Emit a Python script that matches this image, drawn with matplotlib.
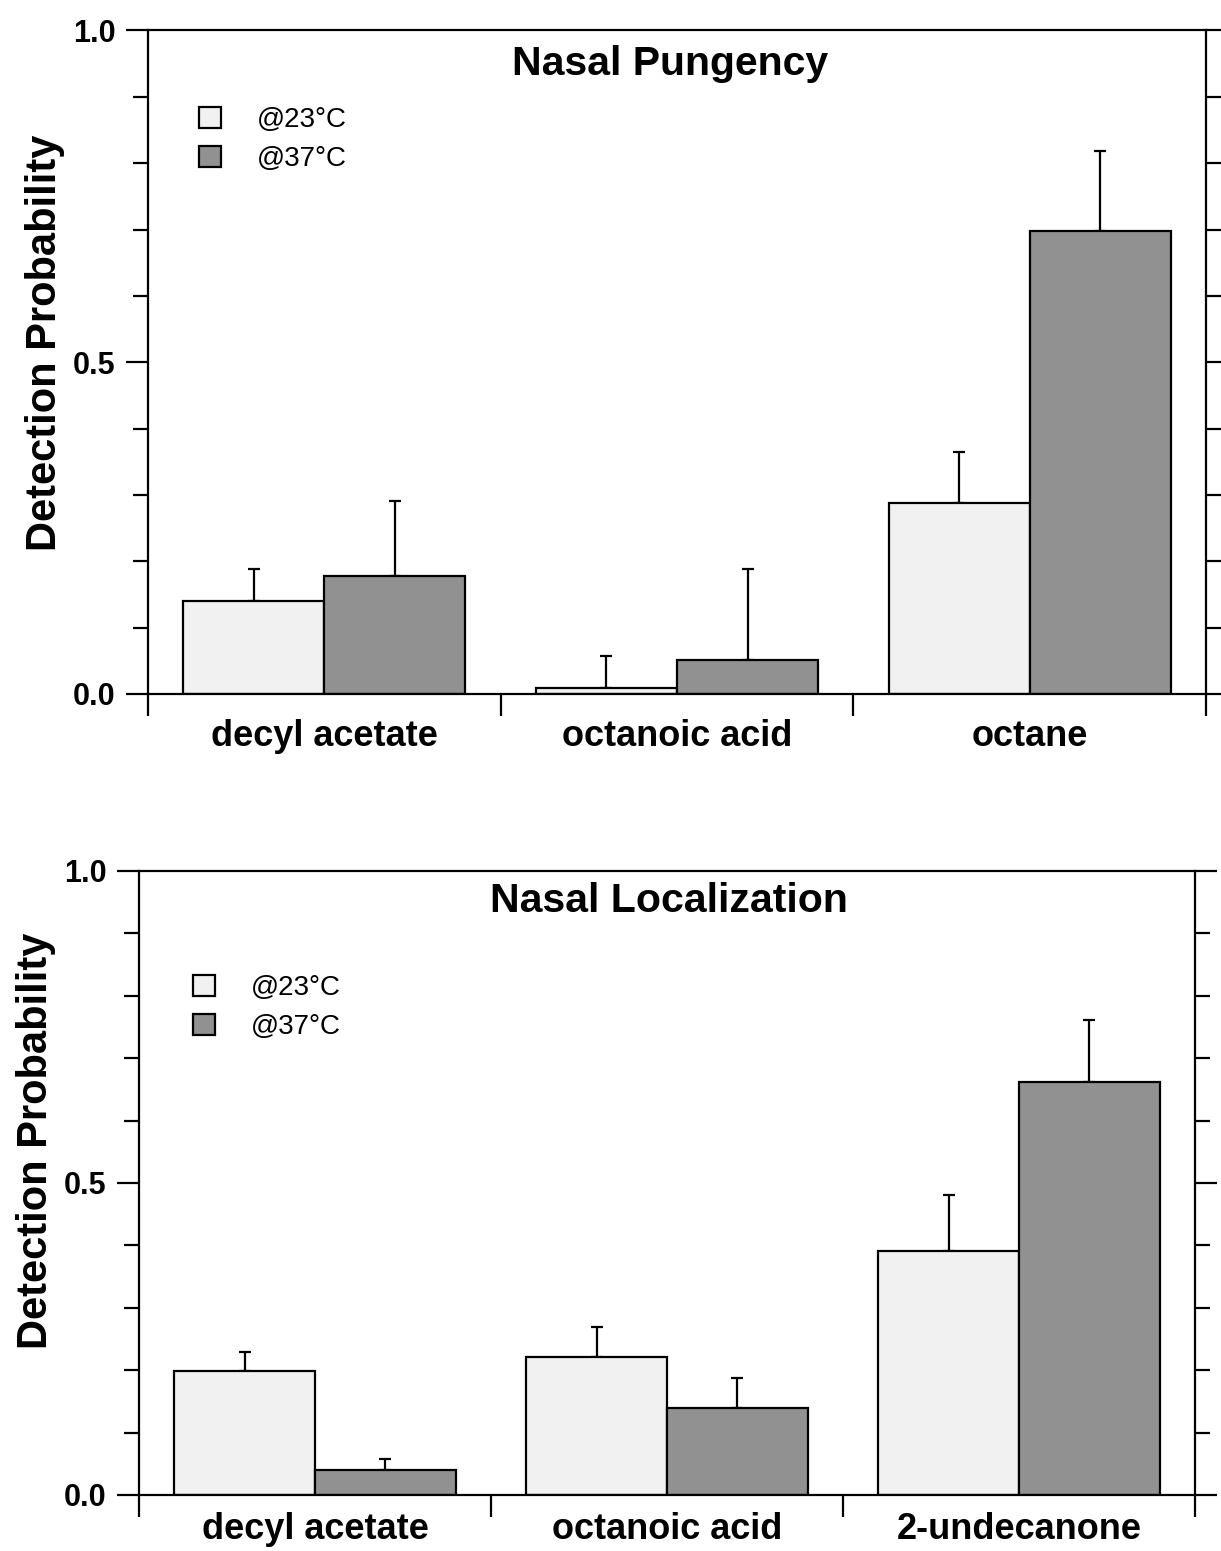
import matplotlib
matplotlib.use("Agg")
import matplotlib.pyplot as plt
from matplotlib.ticker import FixedLocator
import numpy as np

plt.rcParams['font.family'] = ['Liberation Sans', 'DejaVu Sans']

# ---- data ----
top_categories = ["decyl acetate", "octanoic acid", "octane"]
top_23 = [0.140, 0.009, 0.288]
top_23_err = [0.048, 0.048, 0.077]
top_37 = [0.178, 0.051, 0.698]
top_37_err = [0.113, 0.137, 0.120]

bot_categories = ["decyl acetate", "octanoic acid", "2-undecanone"]
bot_23 = [0.199, 0.221, 0.391]
bot_23_err = [0.030, 0.048, 0.090]
bot_37 = [0.040, 0.139, 0.662]
bot_37_err = [0.018, 0.049, 0.099]

series_labels = ["@23°C", "@37°C"]
titles = ["Nasal Pungency", "Nasal Localization"]
ylabel = "Detection Probability"

LIGHT = "#f1f1f1"
DARK = "#919191"
LW = 1.6

fig = plt.figure(figsize=(12.21, 15.51), dpi=100)
ax1 = fig.add_axes([148/1221, 1-694/1551, (1206-148)/1221, 663.5/1551])
ax2 = fig.add_axes([139/1221, 1-1495/1551, (1195-139)/1221, 624/1551])


def draw(ax, cats, v23, e23, v37, e37, title, leg_xy, title_xy, ylab_xy, xpad):
    x = np.arange(len(cats))
    w = 0.4
    b1 = ax.bar(x - w/2, v23, w, color=LIGHT, edgecolor='black', linewidth=LW, zorder=2, label=series_labels[0])
    b2 = ax.bar(x + w/2, v37, w, color=DARK, edgecolor='black', linewidth=LW, zorder=2, label=series_labels[1])
    ax.errorbar(x - w/2, v23, yerr=[np.zeros(len(x)), e23], fmt='none', ecolor='black',
                elinewidth=LW, capsize=4.5, capthick=LW, zorder=1)
    ax.errorbar(x + w/2, v37, yerr=[np.zeros(len(x)), e37], fmt='none', ecolor='black',
                elinewidth=LW, capsize=4.5, capthick=LW, zorder=1)
    ax.set_xlim(-0.5, len(cats) - 0.5)
    ax.set_ylim(0, 1.0)
    for s in ax.spines.values():
        s.set_linewidth(LW)
    ax.yaxis.set_major_locator(FixedLocator([0.0, 0.5, 1.0]))
    ax.yaxis.set_minor_locator(FixedLocator([0.1, 0.2, 0.3, 0.4, 0.6, 0.7, 0.8, 0.9]))
    ax.set_yticklabels(["0.0", "0.5", "1.0"])
    ax.tick_params(axis='y', which='major', direction='out', length=15.5, width=LW,
                   left=True, right=True, labelsize=22, pad=8)
    ax.tick_params(axis='y', which='minor', direction='out', length=10.8, width=LW,
                   left=True, right=True)
    for lab in ax.get_yticklabels():
        lab.set_fontweight('bold')
    ax.set_xticks(x)
    ax.set_xticklabels(cats, fontsize=26, fontweight='bold')
    ax.xaxis.set_minor_locator(FixedLocator(np.arange(-0.5, len(cats), 1.0)))
    ax.tick_params(axis='x', which='major', length=0, pad=xpad)
    ax.tick_params(axis='x', which='minor', direction='out', length=15.8, width=LW, bottom=True, top=False)
    ax.text(title_xy[0], title_xy[1], title, transform=ax.transAxes, ha='center', va='baseline',
            fontsize=29.5, fontweight='bold')
    ax.set_ylabel(ylabel, fontsize=30, fontweight='bold', va='center', ha='center')
    ax.yaxis.set_label_coords(*ylab_xy)
    ax.legend(handles=[b1, b2], loc='upper left', bbox_to_anchor=leg_xy, frameon=False,
              fontsize=20, handlelength=0.8, handleheight=0.8, handletextpad=1.3,
              labelspacing=0.47, borderpad=0, borderaxespad=0)


draw(ax1, top_categories, top_23, top_23_err, top_37, top_37_err, titles[0],
     (0.048, 0.885), (0.493, 0.933), (-0.097, 0.530), 18)
draw(ax2, bot_categories, bot_23, bot_23_err, bot_37, bot_37_err, titles[1],
     (0.051, 0.834), (0.502, 0.934), (-0.098, 0.567), 12.5)

fig.savefig("out.png", dpi=100)
